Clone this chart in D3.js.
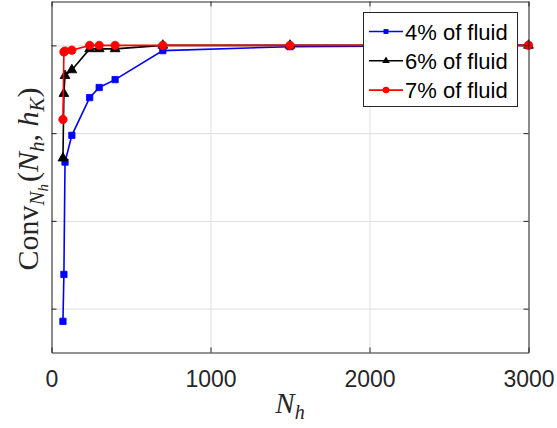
<!DOCTYPE html>
<html>
<head>
<meta charset="utf-8">
<script src="https://cdn.jsdelivr.net/npm/d3@7"></script>
<style>
  body { margin: 0; background: #fff; }
  svg { display: block; }
  .tick text { font-family: "Liberation Sans", Arial, sans-serif; }
</style>
</head>
<body>
<script>
const width = 557, height = 428;

// N_h values (shared by all three series)
const nh = [72, 78, 85, 128, 240, 300, 400, 700, 1500, 3000];
const fluid4 = [0.371, 0.478, 0.734, 0.795, 0.881, 0.904, 0.922, 0.988, 0.997, 1.0];
const fluid6 = [0.743, 0.890, 0.931, 0.944, 0.992, 0.992, 0.992, 1.0, 1.0, 1.0];
const fluid7 = [0.831, 0.985, 0.987, 0.989, 1.0, 1.0, 1.0, 1.0, 1.0, 1.0];
const seriesNames = ["4% of fluid", "6% of fluid", "7% of fluid"];
const xTicks = [0, 1000, 2000, 3000];
const yTicks = [0.4, 0.6, 0.8, 1.0];

const plot = { left: 51.5, right: 528.5, top: 1.5, bottom: 352.5 };
const axisColor = "#262626";

const x = d3.scaleLinear().domain([0, 3000]).range([plot.left, plot.right]);
const y = d3.scaleLinear().domain([0.3, 1.1]).range([plot.bottom, plot.top]);

const svg = d3.select("body").append("svg")
    .attr("width", width)
    .attr("height", height);

// grid
svg.append("g")
    .attr("transform", "translate(0," + plot.bottom + ")")
    .call(d3.axisBottom(x).tickValues(xTicks).tickSize(-(plot.bottom - plot.top)).tickFormat(""))
    .call(g => g.select(".domain").remove())
    .selectAll("line").attr("stroke", "#dfdfdf");
svg.append("g")
    .attr("transform", "translate(" + plot.left + ",0)")
    .call(d3.axisLeft(y).tickValues(yTicks).tickSize(-(plot.right - plot.left)).tickFormat(""))
    .call(g => g.select(".domain").remove())
    .selectAll("line").attr("stroke", "#dfdfdf");

// data
const series = [
    { name: seriesNames[0], values: fluid4, color: "#0000ff", shape: d3.symbolSquare, size: 40 },
    { name: seriesNames[1], values: fluid6, color: "#000000", shape: d3.symbolTriangle, size: 42 },
    { name: seriesNames[2], values: fluid7, color: "#ff0000", shape: d3.symbolCircle, size: 55 }
];

const line = d3.line()
    .x((d, i) => x(nh[i]))
    .y(d => y(d));

series.forEach(function(s) {
    const g = svg.append("g");
    g.append("path")
        .datum(s.values)
        .attr("fill", "none")
        .attr("stroke", s.color)
        .attr("stroke-width", 1.6)
        .attr("d", line);
    g.selectAll("path.mark")
        .data(s.values)
        .enter()
        .append("path")
        .attr("class", "mark")
        .attr("transform", (d, i) => "translate(" + x(nh[i]) + "," + y(d) + ")")
        .attr("d", d3.symbol().type(s.shape).size(s.size))
        .attr("fill", s.color)
        .attr("stroke", s.color)
        .attr("stroke-width", 0.8);
});

// axes (box with inward ticks)
function styleAxis(g) {
    g.selectAll(".domain").attr("stroke", axisColor);
    g.selectAll(".tick line").attr("stroke", axisColor);
}
svg.append("g")
    .attr("transform", "translate(0," + plot.bottom + ")")
    .call(d3.axisBottom(x).tickValues(xTicks).tickFormat(d3.format("d")).tickSizeInner(-5).tickSizeOuter(0).tickPadding(0))
    .call(styleAxis)
    .call(g => g.selectAll(".tick text")
        .attr("y", 34)
        .attr("dy", 0)
        .attr("fill", axisColor)
        .style("font-size", "23px"));
svg.append("g")
    .attr("transform", "translate(0," + plot.top + ")")
    .call(d3.axisTop(x).tickValues(xTicks).tickSizeInner(-5).tickSizeOuter(0).tickFormat(""))
    .call(styleAxis);
svg.append("g")
    .attr("transform", "translate(" + plot.left + ",0)")
    .call(d3.axisLeft(y).tickValues(yTicks).tickSizeInner(-5).tickSizeOuter(0).tickFormat(""))
    .call(styleAxis);
svg.append("g")
    .attr("transform", "translate(" + plot.right + ",0)")
    .call(d3.axisRight(y).tickValues(yTicks).tickSizeInner(-5).tickSizeOuter(0).tickFormat(""))
    .call(styleAxis);

// x label: N_h
const xl = svg.append("text")
    .attr("x", (plot.left + plot.right) / 2)
    .attr("y", 413)
    .attr("text-anchor", "middle")
    .attr("fill", axisColor)
    .style("font-family", "'Liberation Serif', 'DejaVu Serif', serif")
    .style("font-size", "29px");
xl.append("tspan").style("font-style", "italic").text("N");
xl.append("tspan").attr("dy", 6).style("font-size", "20px").style("font-style", "italic").text("h");

// y label: Conv_{N_h}(N_h, h_K)
const yl = svg.append("text")
    .attr("transform", "translate(38," + ((plot.top + plot.bottom) / 2 + 2) + ") rotate(-90)")
    .attr("text-anchor", "middle")
    .attr("fill", axisColor)
    .style("font-family", "'Liberation Serif', 'DejaVu Serif', serif")
    .style("font-size", "30px");
yl.append("tspan").text("Conv");
yl.append("tspan").attr("dy", 6).style("font-size", "21px").style("font-style", "italic").text("N");
yl.append("tspan").attr("dy", 4).style("font-size", "15px").style("font-style", "italic").text("h");
yl.append("tspan").attr("dx", 2).attr("dy", -10).text("(");
yl.append("tspan").style("font-style", "italic").text("N");
yl.append("tspan").attr("dy", 6).style("font-size", "21px").style("font-style", "italic").text("h");
yl.append("tspan").attr("dy", -6).text(", ");
yl.append("tspan").style("font-style", "italic").text("h");
yl.append("tspan").attr("dy", 6).style("font-size", "21px").style("font-style", "italic").text("K");
yl.append("tspan").attr("dy", -6).text(")");

// legend
const legend = svg.append("g");
legend.append("rect")
    .attr("x", 363.5)
    .attr("y", 12.5)
    .attr("width", 154)
    .attr("height", 94)
    .attr("fill", "#fff")
    .attr("stroke", axisColor)
    .attr("stroke-width", 1);

const rows = legend.selectAll("g.row")
    .data(series)
    .enter()
    .append("g")
    .attr("class", "row")
    .attr("transform", (d, i) => "translate(0," + (31.5 + i * 29.3) + ")");
rows.append("line")
    .attr("x1", 369).attr("x2", 403)
    .attr("y1", 0).attr("y2", 0)
    .attr("stroke", d => d.color)
    .attr("stroke-width", 1.6);
rows.append("path")
    .attr("transform", "translate(386,0)")
    .attr("d", d => d3.symbol().type(d.shape).size(d.size * 0.6)())
    .attr("fill", d => d.color);
rows.append("text")
    .attr("x", 405)
    .attr("y", 8)
    .attr("fill", "#000")
    .style("font-family", "'Liberation Sans', Arial, sans-serif")
    .style("font-size", "22px")
    .text(d => d.name);
</script>
</body>
</html>
